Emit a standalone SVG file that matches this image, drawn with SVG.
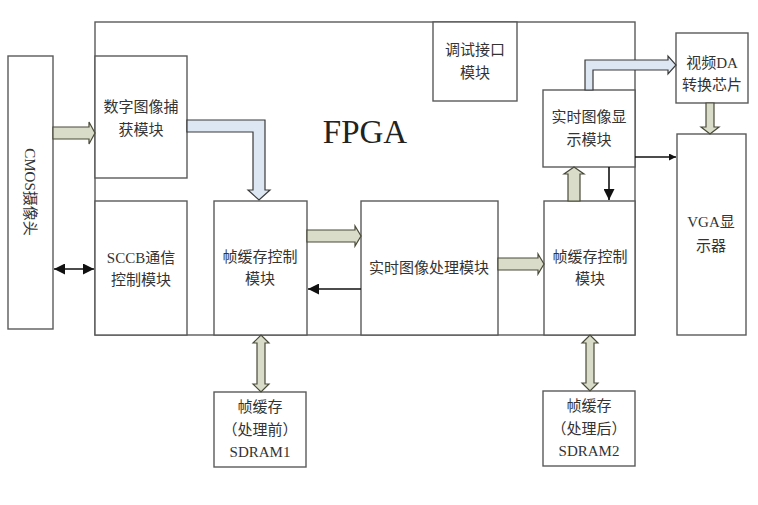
<svg xmlns="http://www.w3.org/2000/svg" width="758" height="505" viewBox="0 0 758 505">
<defs>
<style>
.box{fill:#fff;stroke:#5a5a5a;stroke-width:1.4}
.t{font-family:"Liberation Serif","Noto Sans CJK SC",serif;font-size:15px;fill:#333;text-anchor:middle;dominant-baseline:central}
.ol{fill:#d9dcc8;stroke:#4a4a3a;stroke-width:1.2;stroke-linejoin:miter}
.bl{fill:#dde7f3;stroke:#3a3a3a;stroke-width:1.2}
.ln{stroke:#111;stroke-width:1.6;fill:none}
</style>
<marker id="ah" viewBox="0 0 10 10" refX="10" refY="5" markerWidth="7" markerHeight="7" markerUnits="userSpaceOnUse" orient="auto-start-reverse">
<path d="M0,0 L10,5 L0,10 Z" fill="#111"/>
</marker>
<marker id="ah2" viewBox="0 0 10 10" refX="10" refY="5" markerWidth="11" markerHeight="11" markerUnits="userSpaceOnUse" orient="auto-start-reverse">
<path d="M0,0 L10,5 L0,10 Z" fill="#111"/>
</marker>
</defs>
<rect width="758" height="505" fill="#fff"/>
<g id="fpga">
<rect class="box" x="95" y="22" width="540" height="313"/>
<text x="365" y="143" font-family="Liberation Serif,serif" font-size="33" fill="#222" text-anchor="middle">FPGA</text>
</g>
<g id="cmos">
<rect class="box" x="8" y="56" width="45" height="273"/>
<text class="t" transform="translate(30,192) rotate(90)">CMOS摄像头</text>
</g>
<g id="capture">
<rect class="box" x="95" y="56" width="92" height="122"/>
<text class="t" x="141" y="107">数字图像捕</text>
<text class="t" x="141" y="130">获模块</text>
</g>
<g id="sccb">
<rect class="box" x="95" y="201" width="92" height="134"/>
<text class="t" x="141" y="258">SCCB通信</text>
<text class="t" x="141" y="280">控制模块</text>
</g>
<g id="fbctrl1">
<rect class="box" x="214" y="201" width="93" height="134"/>
<text class="t" x="260" y="257">帧缓存控制</text>
<text class="t" x="260" y="279">模块</text>
</g>
<g id="proc">
<rect class="box" x="361" y="201" width="137" height="134"/>
<text class="t" x="429" y="268">实时图像处理模块</text>
</g>
<g id="fbctrl2">
<rect class="box" x="544" y="201" width="91" height="134"/>
<text class="t" x="590" y="257">帧缓存控制</text>
<text class="t" x="590" y="279">模块</text>
</g>
<g id="debug">
<rect class="box" x="433" y="22" width="84" height="79"/>
<text class="t" x="475" y="50">调试接口</text>
<text class="t" x="475" y="73">模块</text>
</g>
<g id="display">
<rect class="box" x="543" y="90" width="92" height="77"/>
<text class="t" x="589" y="117">实时图像显</text>
<text class="t" x="589" y="140">示模块</text>
</g>
<g id="da">
<rect class="box" x="676" y="33" width="72" height="70"/>
<text class="t" x="712" y="63">视频DA</text>
<text class="t" x="712" y="85">转换芯片</text>
</g>
<g id="vga">
<rect class="box" x="677" y="134" width="69" height="201"/>
<text class="t" x="711" y="222">VGA显</text>
<text class="t" x="711" y="246">示器</text>
</g>
<g id="sdram1">
<rect class="box" x="214" y="392" width="92" height="75"/>
<text class="t" x="260" y="407">帧缓存</text>
<text class="t" x="260" y="430">（处理前）</text>
<text class="t" x="260" y="452">SDRAM1</text>
</g>
<g id="sdram2">
<rect class="box" x="543" y="391" width="92" height="75"/>
<text class="t" x="589" y="406">帧缓存</text>
<text class="t" x="589" y="429">（处理后）</text>
<text class="t" x="589" y="451">SDRAM2</text>
</g>
<g id="connectors">
<polygon class="ol" points="53,127 89,127 89,122 95,133 89,144 89,139 53,139"/>
<polygon class="bl" points="187,120 265,120 265,190 270,190 259,200 248,190 253,190 253,132 187,132"/>
<line class="ln" x1="54" y1="269" x2="94" y2="269" marker-start="url(#ah2)" marker-end="url(#ah2)"/>
<polygon class="ol" points="307,230 355,230 355,226 361,236 355,246 355,242 307,242"/>
<line class="ln" x1="361" y1="289" x2="308" y2="289" marker-end="url(#ah2)"/>
<polygon class="ol" points="498,258 538,258 538,254 544,264 538,274 538,270 498,270"/>
<polygon class="ol" points="568,201 568,174 564,174 574,167 584,174 580,174 580,201"/>
<line class="ln" x1="609" y1="167" x2="609" y2="200" marker-end="url(#ah2)"/>
<polygon class="bl" points="585,90 585,60 668,60 668,56 676,65 668,74 668,70 593,70 593,90"/>
<line class="ln" x1="635" y1="157" x2="676" y2="157" marker-end="url(#ah)"/>
<polygon class="ol" points="706,103 714,103 714,127 719,127 710,134 701,127 706,127"/>
<polygon class="ol" points="257,343 253,343 261,335 269,343 265,343 265,384 269,384 261,392 253,384 257,384"/>
<polygon class="ol" points="586,343 582,343 590,335 598,343 594,343 594,383 598,383 590,391 582,383 586,383"/>
</g>
</svg>
